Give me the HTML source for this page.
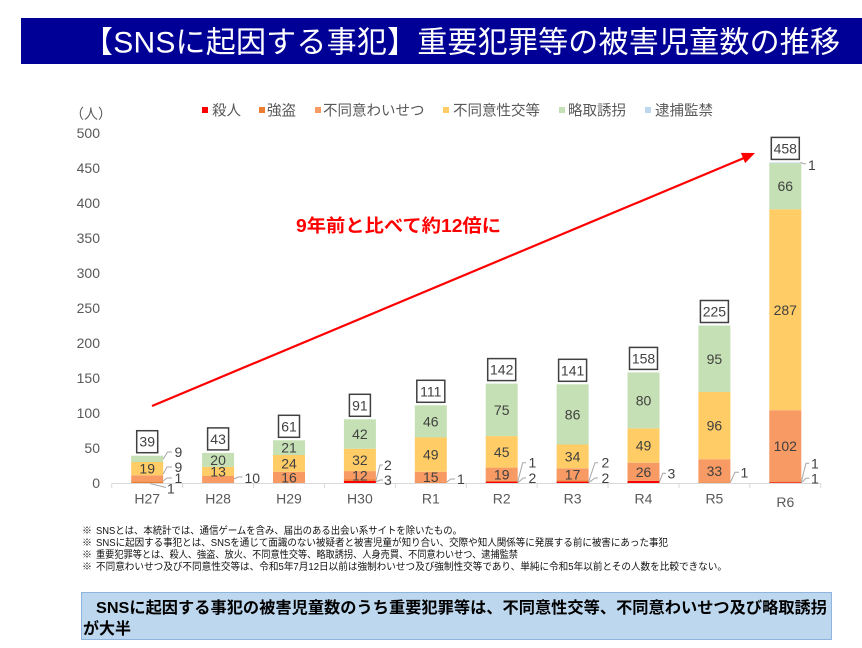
<!DOCTYPE html>
<html>
<head>
<meta charset="utf-8">
<style>
  html,body{margin:0;padding:0;background:#fff;}
  svg{display:block;}
  .n{font-family:"Liberation Sans","Noto Sans CJK JP",sans-serif;font-size:14px;fill:#404040;}
  .ax{font-family:"Liberation Sans","Noto Sans CJK JP",sans-serif;font-size:14px;fill:#595959;}
  .jp{font-family:"Liberation Sans","Noto Sans CJK JP",sans-serif;}
</style>
</head>
<body>
<svg width="862" height="648" viewBox="0 0 862 648" xmlns="http://www.w3.org/2000/svg">
  <!-- Header -->
  <rect x="21" y="18" width="841" height="46" fill="#000096"/>
  <text class="jp" x="83" y="52.5" font-size="30" fill="#ffffff" textLength="757" lengthAdjust="spacing">【SNSに起因する事犯】重要犯罪等の被害児童数の推移</text>

  <!-- Legend -->
  <text class="jp" x="70" y="119" font-size="14" fill="#595959">（人）</text>
  <rect x="202" y="107" width="6" height="6" fill="#FF0000"/>
  <text class="jp" x="212" y="115.5" font-size="14.5" fill="#595959">殺人</text>
  <rect x="259" y="107" width="6" height="6" fill="#ED7D31"/>
  <text class="jp" x="267" y="115.5" font-size="14.5" fill="#595959">強盗</text>
  <rect x="315" y="107" width="6" height="6" fill="#F89A64"/>
  <text class="jp" x="323" y="115.5" font-size="14.5" fill="#595959">不同意わいせつ</text>
  <rect x="443" y="107" width="6" height="6" fill="#FFCC66"/>
  <text class="jp" x="453" y="115.5" font-size="14.5" fill="#595959">不同意性交等</text>
  <rect x="559" y="107" width="6" height="6" fill="#C5E0B4"/>
  <text class="jp" x="568" y="115.5" font-size="14.5" fill="#595959">略取誘拐</text>
  <rect x="645" y="107" width="6" height="6" fill="#BDD7EE"/>
  <text class="jp" x="655" y="115.5" font-size="14.5" fill="#595959">逮捕監禁</text>

  <!-- Y axis labels -->
  <g class="ax" text-anchor="end">
    <text x="100" y="488">0</text>
    <text x="100" y="453">50</text>
    <text x="100" y="418">100</text>
    <text x="100" y="383">150</text>
    <text x="100" y="348">200</text>
    <text x="100" y="313">250</text>
    <text x="100" y="278">300</text>
    <text x="100" y="243">350</text>
    <text x="100" y="208">400</text>
    <text x="100" y="173">450</text>
    <text x="100" y="138">500</text>
  </g>

  <!-- Axis baseline -->
  <line x1="111.75" y1="483.5" x2="820.75" y2="483.5" stroke="#D9D9D9" stroke-width="1"/>
  <g stroke="#D9D9D9" stroke-width="1">
    <line x1="111.75" y1="483.5" x2="111.75" y2="488"/>
    <line x1="182.65" y1="483.5" x2="182.65" y2="488"/>
    <line x1="253.55" y1="483.5" x2="253.55" y2="488"/>
    <line x1="324.45" y1="483.5" x2="324.45" y2="488"/>
    <line x1="395.35" y1="483.5" x2="395.35" y2="488"/>
    <line x1="466.25" y1="483.5" x2="466.25" y2="488"/>
    <line x1="537.15" y1="483.5" x2="537.15" y2="488"/>
    <line x1="608.05" y1="483.5" x2="608.05" y2="488"/>
    <line x1="678.95" y1="483.5" x2="678.95" y2="488"/>
    <line x1="749.85" y1="483.5" x2="749.85" y2="488"/>
    <line x1="820.75" y1="483.5" x2="820.75" y2="488"/>
  </g>

  <!-- Bars -->
  <!-- H27 -->
  <rect x="131.2" y="481.6" width="32" height="1.4" fill="#ED7D31"/>
  <rect x="131.2" y="475.3" width="32" height="6.3" fill="#F89A64"/>
  <rect x="131.2" y="462" width="32" height="13.3" fill="#FFCC66"/>
  <rect x="131.2" y="455.7" width="32" height="6.3" fill="#C5E0B4"/>
  <!-- H28 -->
  <rect x="202.1" y="476" width="32" height="7" fill="#F89A64"/>
  <rect x="202.1" y="466.9" width="32" height="9.1" fill="#FFCC66"/>
  <rect x="202.1" y="452.9" width="32" height="14" fill="#C5E0B4"/>
  <!-- H29 -->
  <rect x="273" y="471.8" width="32" height="11.2" fill="#F89A64"/>
  <rect x="273" y="455" width="32" height="16.8" fill="#FFCC66"/>
  <rect x="273" y="440.3" width="32" height="14.7" fill="#C5E0B4"/>
  <!-- H30 -->
  <rect x="343.9" y="480.9" width="32" height="2.1" fill="#FF0000"/>
  <rect x="343.9" y="479.5" width="32" height="1.4" fill="#ED7D31"/>
  <rect x="343.9" y="471.1" width="32" height="8.4" fill="#F89A64"/>
  <rect x="343.9" y="448.7" width="32" height="22.4" fill="#FFCC66"/>
  <rect x="343.9" y="419.3" width="32" height="29.4" fill="#C5E0B4"/>
  <!-- R1 -->
  <rect x="414.8" y="482.3" width="32" height="0.7" fill="#ED7D31"/>
  <rect x="414.8" y="471.8" width="32" height="10.5" fill="#F89A64"/>
  <rect x="414.8" y="437.5" width="32" height="34.3" fill="#FFCC66"/>
  <rect x="414.8" y="405.3" width="32" height="32.2" fill="#C5E0B4"/>
  <!-- R2 -->
  <rect x="485.7" y="481.6" width="32" height="1.4" fill="#FF0000"/>
  <rect x="485.7" y="480.9" width="32" height="0.7" fill="#ED7D31"/>
  <rect x="485.7" y="467.6" width="32" height="13.3" fill="#F89A64"/>
  <rect x="485.7" y="436.1" width="32" height="31.5" fill="#FFCC66"/>
  <rect x="485.7" y="383.6" width="32" height="52.5" fill="#C5E0B4"/>
  <!-- R3 -->
  <rect x="556.6" y="481.6" width="32" height="1.4" fill="#FF0000"/>
  <rect x="556.6" y="480.2" width="32" height="1.4" fill="#ED7D31"/>
  <rect x="556.6" y="468.3" width="32" height="11.9" fill="#F89A64"/>
  <rect x="556.6" y="444.5" width="32" height="23.8" fill="#FFCC66"/>
  <rect x="556.6" y="384.3" width="32" height="60.2" fill="#C5E0B4"/>
  <!-- R4 -->
  <rect x="627.5" y="480.9" width="32" height="2.1" fill="#FF0000"/>
  <rect x="627.5" y="462.7" width="32" height="18.2" fill="#F89A64"/>
  <rect x="627.5" y="428.4" width="32" height="34.3" fill="#FFCC66"/>
  <rect x="627.5" y="372.4" width="32" height="56" fill="#C5E0B4"/>
  <!-- R5 -->
  <rect x="698.4" y="482.3" width="32" height="0.7" fill="#ED7D31"/>
  <rect x="698.4" y="459.2" width="32" height="23.1" fill="#F89A64"/>
  <rect x="698.4" y="392" width="32" height="67.2" fill="#FFCC66"/>
  <rect x="698.4" y="325.5" width="32" height="66.5" fill="#C5E0B4"/>
  <!-- R6 -->
  <rect x="769.3" y="482.3" width="32" height="0.7" fill="#FF0000"/>
  <rect x="769.3" y="481.6" width="32" height="0.7" fill="#ED7D31"/>
  <rect x="769.3" y="410.2" width="32" height="71.4" fill="#F89A64"/>
  <rect x="769.3" y="209.3" width="32" height="200.9" fill="#FFCC66"/>
  <rect x="769.3" y="163.1" width="32" height="46.2" fill="#C5E0B4"/>
  <rect x="769.3" y="162.4" width="32" height="0.7" fill="#BDD7EE"/>

  <!-- Inside labels -->
  <g class="n" text-anchor="middle">
    <text x="147.2" y="473.65">19</text>
    <text x="218.1" y="476.45">13</text>
    <text x="218.1" y="464.9">20</text>
    <text x="289" y="482.4">16</text>
    <text x="289" y="468.4">24</text>
    <text x="289" y="452.65">21</text>
    <text x="359.9" y="480.3">12</text>
    <text x="359.9" y="464.9">32</text>
    <text x="359.9" y="439">42</text>
    <text x="430.8" y="482.05">15</text>
    <text x="430.8" y="459.65">49</text>
    <text x="430.8" y="426.4">46</text>
    <text x="501.7" y="479.25">19</text>
    <text x="501.7" y="456.85">45</text>
    <text x="501.7" y="414.85">75</text>
    <text x="572.6" y="479.25">17</text>
    <text x="572.6" y="461.4">34</text>
    <text x="572.6" y="419.4">86</text>
    <text x="643.5" y="476.8">26</text>
    <text x="643.5" y="450.55">49</text>
    <text x="643.5" y="405.4">80</text>
    <text x="714.4" y="475.75">33</text>
    <text x="714.4" y="430.6">96</text>
    <text x="714.4" y="363.75">95</text>
    <text x="785.3" y="450.9">102</text>
    <text x="785.3" y="314.75">287</text>
    <text x="785.3" y="191.2">66</text>
  </g>

  <!-- Callout leaders -->
  <g fill="none" stroke="#A6A6A6" stroke-width="1">
    <polyline points="163.2,459 167.5,452 172,452"/>
    <polyline points="163.2,474 167,467 172,467"/>
    <polyline points="163.2,481 167,478 172,478"/>
    <polyline points="150,483.5 166,487.5"/>
    <polyline points="234.1,479 238,477 242.5,477"/>
    <polyline points="375.9,481 380,465 383,465"/>
    <polyline points="375.9,482 380,480 383,480"/>
    <polyline points="446.8,482 451,479 455,479"/>
    <polyline points="517.7,481.7 522.7,462.7 526,462.7"/>
    <polyline points="517.7,482.7 523.3,478 526,478"/>
    <polyline points="588.6,481.7 595,462.7 598,462.7"/>
    <polyline points="588.6,482.7 595,478 598,478"/>
    <polyline points="659.5,481.7 662.7,473.3 666,473.3"/>
    <polyline points="730.4,482.3 735,472.3 739,472.3"/>
    <polyline points="801.3,481.7 806,463.3 809.3,463.3"/>
    <polyline points="801.3,482.7 806,478.3 809.3,478.3"/>
    <polyline points="800.5,162.4 804,163.8 806,163.8"/>
  </g>
  <g class="n">
    <text x="174.5" y="457">9</text>
    <text x="174.5" y="472">9</text>
    <text x="174.5" y="483">1</text>
    <text x="167" y="493.5">1</text>
    <text x="244.5" y="483">10</text>
    <text x="384" y="470">2</text>
    <text x="384" y="485">3</text>
    <text x="457" y="484">1</text>
    <text x="528.5" y="467.7">1</text>
    <text x="528.5" y="483">2</text>
    <text x="601.5" y="467.7">2</text>
    <text x="601.5" y="483">2</text>
    <text x="667.5" y="478.3">3</text>
    <text x="740.5" y="477.3">1</text>
    <text x="811" y="468.3">1</text>
    <text x="811" y="483.3">1</text>
    <text x="808" y="170">1</text>
  </g>

  <!-- Total boxes -->
  <g fill="#ffffff" stroke="#404040" stroke-width="1.5">
    <rect x="136.7" y="430.7" width="21" height="22"/>
    <rect x="207.6" y="427.9" width="21" height="22"/>
    <rect x="278.5" y="415.3" width="21" height="22"/>
    <rect x="349.4" y="394.3" width="21" height="22"/>
    <rect x="416.8" y="380.3" width="28" height="22"/>
    <rect x="487.7" y="358.6" width="28" height="22"/>
    <rect x="558.6" y="359.3" width="28" height="22"/>
    <rect x="629.5" y="347.4" width="28" height="22"/>
    <rect x="700.4" y="300.5" width="28" height="22"/>
    <rect x="771.3" y="137.4" width="28" height="22"/>
  </g>
  <g class="n" text-anchor="middle">
    <text x="147.2" y="446.7">39</text>
    <text x="218.1" y="443.9">43</text>
    <text x="289" y="431.3">61</text>
    <text x="359.9" y="410.3">91</text>
    <text x="430.8" y="396.3">111</text>
    <text x="501.7" y="374.6">142</text>
    <text x="572.6" y="375.3">141</text>
    <text x="643.5" y="363.4">158</text>
    <text x="714.4" y="316.5">225</text>
    <text x="785.3" y="153.4">458</text>
  </g>

  <!-- X labels -->
  <g class="ax" text-anchor="middle">
    <text x="147.2" y="503.5">H27</text>
    <text x="218.1" y="503.5">H28</text>
    <text x="289" y="503.5">H29</text>
    <text x="359.9" y="503.5">H30</text>
    <text x="430.8" y="503.5">R1</text>
    <text x="501.7" y="503.5">R2</text>
    <text x="572.6" y="503.5">R3</text>
    <text x="643.5" y="503.5">R4</text>
    <text x="714.4" y="503.5">R5</text>
    <text x="785.3" y="507">R6</text>
  </g>

  <!-- Arrow -->
  <line x1="152" y1="406" x2="744" y2="158" stroke="#FF0000" stroke-width="2.2"/>
  <polygon points="755,153 745.1,163.1 740.9,152.9" fill="#FF0000"/>

  <!-- Annotation -->
  <text class="jp" x="296" y="232" font-size="18" font-weight="bold" fill="#FF0000" textLength="205" lengthAdjust="spacingAndGlyphs">9年前と比べて約12倍に</text>

  <!-- Notes -->
  <g class="jp" font-size="10" fill="#111111">
    <text x="82" y="534">※</text>
    <text x="96" y="534" textLength="366" lengthAdjust="spacingAndGlyphs">SNSとは、本統計では、通信ゲームを含み、届出のある出会い系サイトを除いたもの。</text>
    <text x="82" y="546">※</text>
    <text x="96" y="546" textLength="572" lengthAdjust="spacingAndGlyphs">SNSに起因する事犯とは、SNSを通じて面識のない被疑者と被害児童が知り合い、交際や知人関係等に発展する前に被害にあった事犯</text>
    <text x="82" y="558">※</text>
    <text x="96" y="558" textLength="422" lengthAdjust="spacingAndGlyphs">重要犯罪等とは、殺人、強盗、放火、不同意性交等、略取誘拐、人身売買、不同意わいせつ、逮捕監禁</text>
    <text x="82" y="570">※</text>
    <text x="96" y="570" textLength="631" lengthAdjust="spacingAndGlyphs">不同意わいせつ及び不同意性交等は、令和5年7月12日以前は強制わいせつ及び強制性交等であり、単純に令和5年以前とその人数を比較できない。</text>
  </g>

  <!-- Bottom box -->
  <rect x="81.5" y="592.5" width="750" height="47" fill="#BDD7EE" stroke="#8FB4DE" stroke-width="1"/>
  <text class="jp" x="96" y="613" font-size="16" font-weight="bold" fill="#000000" textLength="731" lengthAdjust="spacingAndGlyphs">SNSに起因する事犯の被害児童数のうち重要犯罪等は、不同意性交等、不同意わいせつ及び略取誘拐</text>
  <text class="jp" x="83" y="634" font-size="16" font-weight="bold" fill="#000000">が大半</text>
</svg>
</body>
</html>
